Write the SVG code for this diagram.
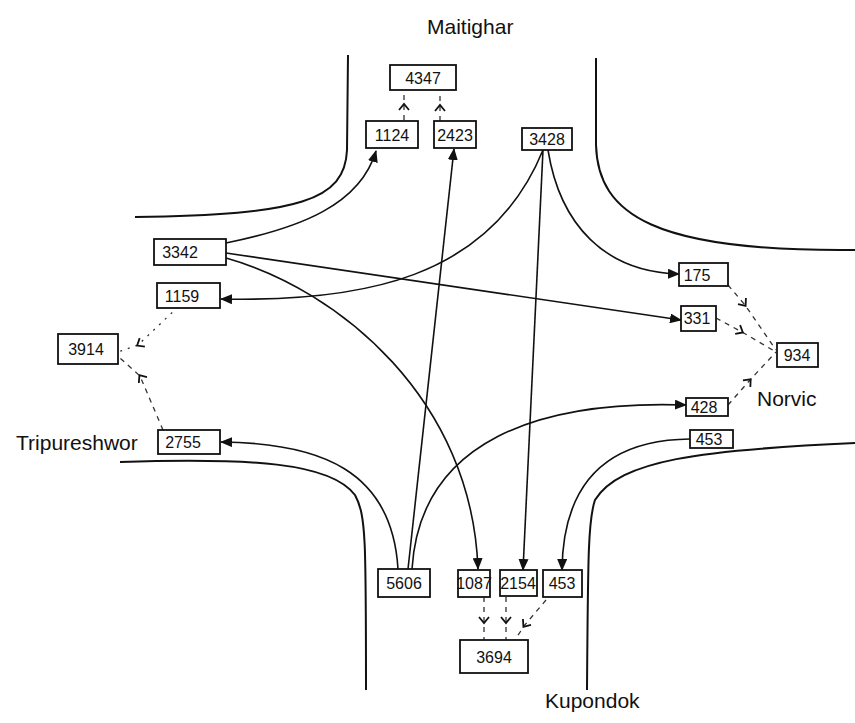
<svg xmlns="http://www.w3.org/2000/svg" width="855" height="723" viewBox="0 0 855 723">
<style>
.road{fill:none;stroke:#111;stroke-width:2}
.box{fill:#fff;stroke:#111;stroke-width:1.8}
.t{font-family:"Liberation Sans",Arial,sans-serif;font-size:16px;fill:#111;text-anchor:middle;dominant-baseline:central}
.lbl{font-family:"Liberation Sans",Arial,sans-serif;font-size:21px;fill:#111}
.c{fill:none;stroke:#111;stroke-width:1.6;marker-end:url(#ah)}
.d{fill:none;stroke:#333;stroke-width:1.3;stroke-dasharray:5 5;marker-mid:url(#ch)}
.dot{stroke-dasharray:2 6}
</style>
<defs>
<marker id="ah" markerUnits="userSpaceOnUse" markerWidth="12" markerHeight="10" refX="11" refY="5" orient="auto">
<path d="M0,0 L12,5 L0,10 z" fill="#111"/>
</marker>
<marker id="ch" markerUnits="userSpaceOnUse" markerWidth="12" markerHeight="12" refX="6" refY="6" orient="auto">
<path d="M1,1 L7,6 L1,11" fill="none" stroke="#111" stroke-width="1.8"/>
</marker>
</defs>
<rect width="855" height="723" fill="#fff"/>
<g id="roads">
<path class="road" d="M348,55 L347,150 C345,200 300,215 135,217"/>
<path class="road" d="M596,58 L596,145 C598,215 655,252 855,250"/>
<path class="road" d="M120,462 C250,458 330,462 355,495 C366,515 366,540 366,690"/>
<path class="road" d="M855,443 C700,450 620,460 595,500 C588,520 588,560 587,690"/>
</g>
<g id="labels">
<text class="lbl" x="427" y="34" font-size="22">Maitighar</text>
<text class="lbl" x="16" y="450" font-size="19">Tripureshwor</text>
<text class="lbl" x="757" y="406" font-size="20">Norvic</text>
<text class="lbl" x="545" y="708">Kupondok</text>
</g>
<g id="connectors">
<path class="c" d="M226,243 C300,228 360,205 376,151"/>
<path class="c" d="M226,253 L681,320"/>
<path class="c" d="M226,258 C340,290 472,400 478,569"/>
<path class="c" d="M543,150 C490,280 360,302 221,299"/>
<path class="c" d="M543,150 L523,570"/>
<path class="c" d="M548,150 C560,225 605,272 679,274"/>
<path class="c" d="M408,569 L454,149"/>
<path class="c" d="M398,569 C392,470 320,443 221,442"/>
<path class="c" d="M412,569 C420,440 540,400 686,405"/>
<path class="c" d="M690,439 C600,440 563,490 562,570"/>
<path class="d" d="M404,120 L404,105 L404,90"/>
<path class="d" d="M440,121 L440,106 L440,90"/>
<path class="d dot" d="M178,307 L138,345 L118,352"/>
<path class="d" d="M163,430 L140,376 L120,358"/>
<path class="d" d="M728,285 L745,305 L776,350"/>
<path class="d" d="M716,318 L742,332 L776,352"/>
<path class="d" d="M728,405 L750,380 L776,352"/>
<path class="d" d="M484,597 L484,622 L484,640"/>
<path class="d" d="M506,597 L506,622 L506,640"/>
<path class="d" d="M546,600 L524,626 L515,640"/>
</g>
<g id="n4347"><rect class="box" x="390" y="65" width="66" height="25"/><text class="t" x="423" y="78" font-size="17">4347</text></g>
<g id="n1124"><rect class="box" x="366" y="121" width="52" height="27"/><text class="t" x="392" y="135">1124</text></g>
<g id="n2423"><rect class="box" x="434" y="121" width="42" height="27"/><text class="t" x="455" y="135" font-size="15">2423</text></g>
<g id="n3428"><rect class="box" x="522" y="128" width="50" height="22"/><text class="t" x="547" y="139" font-size="17">3428</text></g>
<g id="n3342"><rect class="box" x="154" y="239" width="72" height="26"/><text class="t" x="180" y="252">3342</text></g>
<g id="n1159"><rect class="box" x="157" y="283" width="63" height="25"/><text class="t" x="182" y="296">1159</text></g>
<g id="n3914"><rect class="box" x="58" y="334" width="60" height="30"/><text class="t" x="86" y="349" font-size="17">3914</text></g>
<g id="n2755"><rect class="box" x="158" y="430" width="62" height="24"/><text class="t" x="183" y="442">2755</text></g>
<g id="n175"><rect class="box" x="679" y="263" width="49" height="23"/><text class="t" x="697" y="275">175</text></g>
<g id="n331"><rect class="box" x="681" y="306" width="35" height="25"/><text class="t" x="697" y="318">331</text></g>
<g id="n934"><rect class="box" x="777" y="343" width="41" height="24"/><text class="t" x="797" y="355">934</text></g>
<g id="n428"><rect class="box" x="686" y="398" width="42" height="18"/><text class="t" x="704" y="407" font-size="13">428</text></g>
<g id="n453r"><rect class="box" x="690" y="430" width="43" height="18"/><text class="t" x="709" y="439" font-size="14">453</text></g>
<g id="n5606"><rect class="box" x="378" y="569" width="52" height="28"/><text class="t" x="404" y="583">5606</text></g>
<g id="n1087"><rect class="box" x="458" y="570" width="32" height="27"/><text class="t" x="474" y="583" font-size="13">1087</text></g>
<g id="n2154"><rect class="box" x="500" y="570" width="37" height="26"/><text class="t" x="518" y="583" font-size="14">2154</text></g>
<g id="n453b"><rect class="box" x="543" y="570" width="39" height="27"/><text class="t" x="562" y="583">453</text></g>
<g id="n3694"><rect class="box" x="460" y="640" width="68" height="33"/><text class="t" x="494" y="657" font-size="18">3694</text></g>
</svg>
